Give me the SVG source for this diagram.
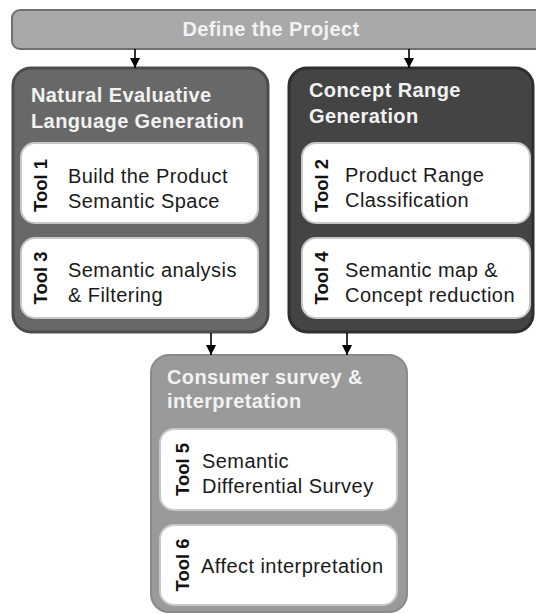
<svg xmlns="http://www.w3.org/2000/svg" width="536" height="614" viewBox="0 0 536 614">
<defs>
<style>
.title{font-family:"Liberation Sans",Arial,sans-serif;font-weight:bold;font-size:20px;letter-spacing:0.4px;fill:#f2f2f2}
.tool{font-family:"Liberation Sans",Arial,sans-serif;font-weight:bold;font-size:18.5px;fill:#111}
.body{font-family:"Liberation Sans",Arial,sans-serif;font-size:20px;letter-spacing:0.45px;fill:#1a1a1a}
.inner{fill:#ffffff;stroke:#c8c8c8;stroke-width:2}
.conn{stroke:#000;stroke-width:1.6;fill:none}
</style>
<marker id="arr" viewBox="0 0 10 10" refX="10" refY="5" markerWidth="13" markerHeight="10" markerUnits="userSpaceOnUse" orient="auto">
<path d="M0,0 L10,5 L0,10 z" fill="#000"/>
</marker>
</defs>
<rect width="536" height="614" fill="#ffffff"/>
<g id="define">
<rect x="12" y="10" width="540" height="39" rx="8" fill="#a9a9a9" stroke="#707070" stroke-width="2"/>
<text class="title" x="271" y="36" text-anchor="middle" font-size="19">Define the Project</text>
</g>
<g id="nelg">
<rect x="13" y="68" width="255" height="264" rx="18" fill="#686868" stroke="#4c4c4c" stroke-width="3"/>
<text class="title" x="31" y="102">Natural Evaluative</text>
<text class="title" x="31" y="128">Language Generation</text>
<g id="tool1">
<rect class="inner" x="21" y="143" width="237" height="80" rx="14"/>
<text class="tool" transform="translate(47,185.5) rotate(-90)" text-anchor="middle">Tool 1</text>
<text class="body" x="68" y="183">Build the Product</text>
<text class="body" x="68" y="208">Semantic Space</text>
</g>
<g id="tool3">
<rect class="inner" x="21" y="238" width="237" height="80" rx="14"/>
<text class="tool" transform="translate(47,278) rotate(-90)" text-anchor="middle">Tool 3</text>
<text class="body" x="68" y="277">Semantic analysis</text>
<text class="body" x="68" y="302">&amp; Filtering</text>
</g>
</g>
<g id="crg">
<rect x="289" y="68" width="244" height="264" rx="18" fill="#444444" stroke="#2e2e2e" stroke-width="3"/>
<text class="title" x="309" y="97">Concept Range</text>
<text class="title" x="309" y="123">Generation</text>
<g id="tool2">
<rect class="inner" x="302" y="143" width="228" height="80" rx="14"/>
<text class="tool" transform="translate(328,185.5) rotate(-90)" text-anchor="middle">Tool 2</text>
<text class="body" x="345" y="182">Product Range</text>
<text class="body" x="345" y="207">Classification</text>
</g>
<g id="tool4">
<rect class="inner" x="302" y="238" width="228" height="80" rx="14"/>
<text class="tool" transform="translate(328,278) rotate(-90)" text-anchor="middle">Tool 4</text>
<text class="body" x="345" y="277">Semantic map &amp;</text>
<text class="body" x="345" y="302">Concept reduction</text>
</g>
</g>
<g id="survey">
<rect x="151" y="355" width="256" height="257" rx="18" fill="#9a9a9a" stroke="#8a8a8a" stroke-width="2"/>
<text class="title" x="167" y="384" fill="#efefef">Consumer survey &amp;</text>
<text class="title" x="167" y="408" fill="#efefef">interpretation</text>
<g id="tool5">
<rect class="inner" x="160" y="429" width="237" height="81" rx="14"/>
<text class="tool" transform="translate(189,469.5) rotate(-90)" text-anchor="middle">Tool 5</text>
<text class="body" x="202" y="468">Semantic</text>
<text class="body" x="202" y="493">Differential Survey</text>
</g>
<g id="tool6">
<rect class="inner" x="160" y="525" width="237" height="80" rx="14"/>
<text class="tool" transform="translate(189,565) rotate(-90)" text-anchor="middle">Tool 6</text>
<text class="body" x="201" y="573">Affect interpretation</text>
</g>
</g>
<g id="connectors">
<line class="conn" x1="135" y1="49" x2="135" y2="68" marker-end="url(#arr)"/>
<line class="conn" x1="409" y1="49" x2="409" y2="68" marker-end="url(#arr)"/>
<line class="conn" x1="211" y1="333" x2="211" y2="355" marker-end="url(#arr)"/>
<line class="conn" x1="347" y1="333" x2="347" y2="355" marker-end="url(#arr)"/>
</g>
</svg>
